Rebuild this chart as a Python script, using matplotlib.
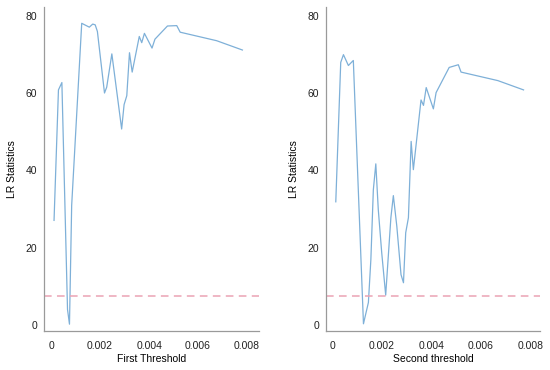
import matplotlib
matplotlib.use("Agg")
import matplotlib.pyplot as plt

# Data ------------------------------------------------------------------

first_x = [0.00012, 0.0003, 0.00044, 0.00067, 0.00075, 0.00084, 0.00125,
           0.00156, 0.0017, 0.0018, 0.00189, 0.00218, 0.00227, 0.00248,
           0.00288, 0.00298, 0.00309, 0.0032, 0.00331, 0.0036, 0.0037,
           0.00381, 0.00412, 0.00424, 0.00475, 0.00513, 0.00527, 0.00676,
           0.00781]
first_lr = [27.1, 60.8, 62.7, 4.1, 0.3, 31.0, 78.0,
            77.0, 77.8, 77.6, 75.9, 60.0, 61.5, 70.1,
            50.7, 57.0, 59.3, 70.4, 65.4, 74.6, 73.0,
            75.4, 71.6, 73.9, 77.3, 77.4, 75.7, 73.5,
            71.1]

second_x = [0.00013, 0.00033, 0.00044, 0.00064, 0.00084, 0.00125, 0.00145,
            0.00155, 0.00165, 0.00175, 0.00185, 0.00199, 0.00215, 0.00236,
            0.00246, 0.0026, 0.00277, 0.00287, 0.00296, 0.00307, 0.00318,
            0.00327, 0.00358, 0.00368, 0.00379, 0.00408, 0.00419, 0.00472,
            0.00509, 0.0052, 0.00669, 0.00773]
second_lr = [31.9, 67.9, 69.9, 67.1, 68.4, 0.4, 5.9,
             17.0, 35.0, 41.7, 29.9, 18.7, 7.8, 27.8,
             33.5, 25.6, 13.1, 11.0, 23.9, 27.8, 47.5,
             40.2, 58.2, 56.8, 61.4, 55.9, 60.1, 66.6,
             67.3, 65.4, 63.2, 60.8]

critical_value = 7.5
x_ticks = [0, 0.002, 0.004, 0.006, 0.008]
x_tick_labels = ["0", "0.002", "0.004", "0.006", "0.008"]
y_ticks = [0, 20, 40, 60, 80]

# Plot ------------------------------------------------------------------

plt.rcParams['font.family'] = ['Liberation Sans', 'DejaVu Sans']
plt.rcParams['font.size'] = 7.5

fig = plt.figure(figsize=(5.5, 3.7), dpi=100)
ax1 = fig.add_axes([0.080, 0.105, 0.391, 0.876])
ax2 = fig.add_axes([0.593, 0.105, 0.389, 0.876])

panels = [
    (ax1, first_x, first_lr, "First Threshold", (-0.00029, 0.00849)),
    (ax2, second_x, second_lr, "Second threshold", (-0.00026, 0.0084)),
]

for ax, xs, ys, xlabel, xlim in panels:
    ax.plot(xs, ys, color='#7eb0d8', lw=0.9)
    ax.axhline(critical_value, color='#eba3b4', lw=1.1, dashes=(5, 3.5))
    ax.set_xlim(*xlim)
    ax.set_ylim(-1.5, 82.2)
    ax.set_xticks(x_ticks)
    ax.set_xticklabels(x_tick_labels)
    ax.set_yticks(y_ticks)
    ax.tick_params(length=0, labelsize=7.5, colors='#222222')
    ax.tick_params(axis='x', pad=7)
    ax.tick_params(axis='y', pad=5)
    ax.set_xlabel(xlabel, fontsize=7.5, labelpad=2)
    ax.set_ylabel("LR Statistics", fontsize=7.5, labelpad=6)
    for side in ['top', 'right']:
        ax.spines[side].set_visible(False)
    for side in ['left', 'bottom']:
        ax.spines[side].set_color('#9a9a9a')
        ax.spines[side].set_linewidth(0.9)

fig.savefig("out.png", dpi=100)
